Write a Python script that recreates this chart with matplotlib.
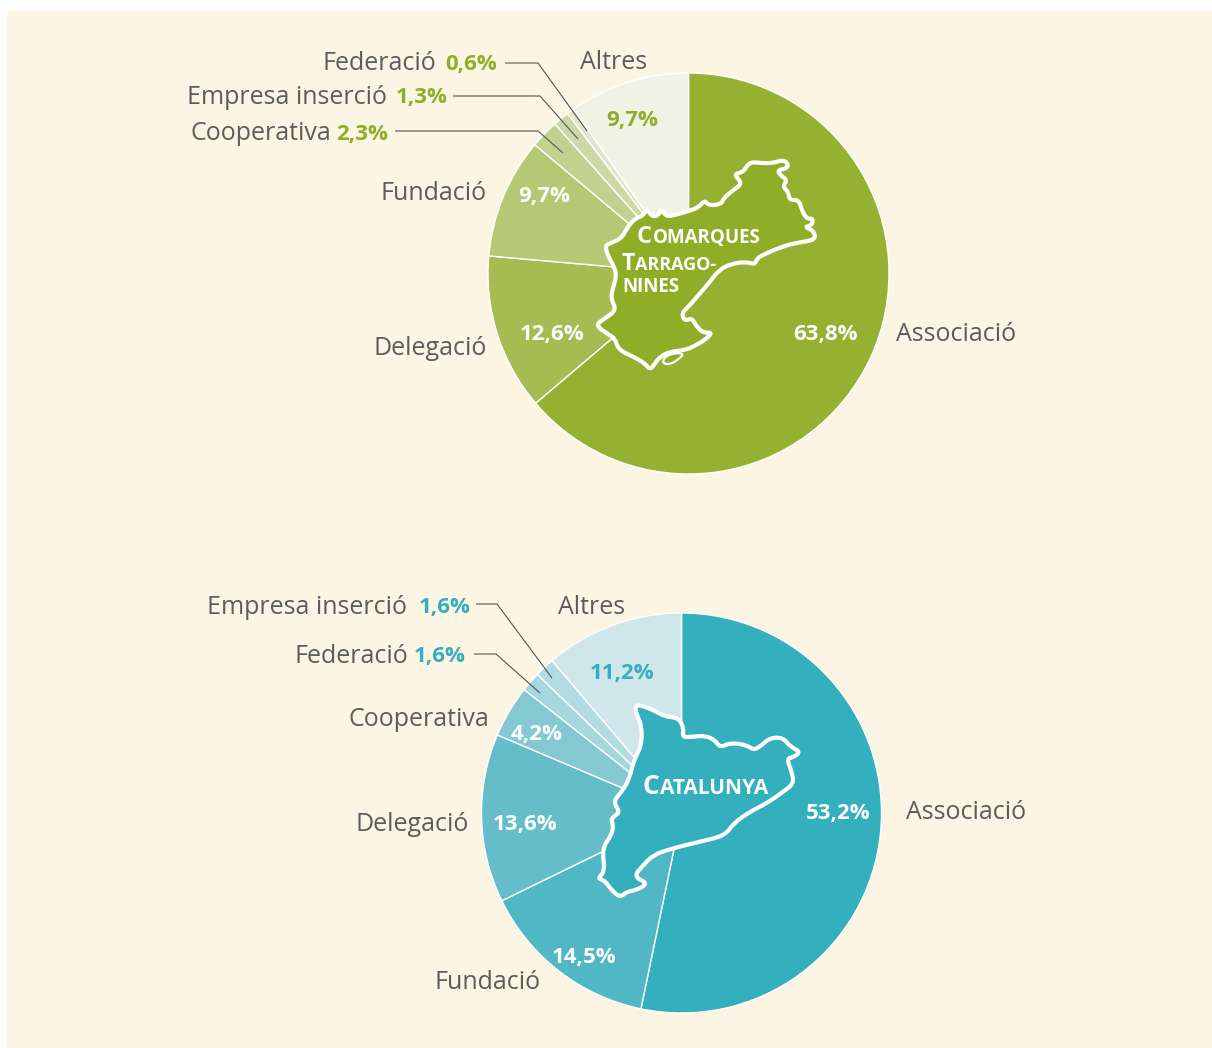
#!/usr/bin/env python3
# -*- coding: utf-8 -*-
import matplotlib
matplotlib.use('Agg')
import matplotlib.pyplot as plt
from matplotlib.patches import PathPatch, Rectangle
from matplotlib.path import Path

W, H = 1212, 1048

## Data, clockwise from 12 o'clock
tgn_labels = ['Associació', 'Delegació', 'Fundació', 'Cooperativa', 'Empresa inserció', 'Federació', 'Altres']
tgn_values = [63.8, 12.6, 9.7, 2.3, 1.3, 0.6, 9.7]
tgn_colors = ['#95B131', '#A6BB52', '#B5C873', '#C3D190', '#CDD8A6', '#E0E6C8', '#F0F2E5']

cat_labels = ['Associació', 'Fundació', 'Delegació', 'Cooperativa', 'Federació', 'Empresa inserció', 'Altres']
cat_values = [53.2, 14.5, 13.6, 4.2, 1.6, 1.6, 11.2]
cat_colors = ['#33AFBD', '#50B7C5', '#66BDCA', '#84C8D2', '#A6D7DF', '#B2DBE3', '#CFE7EB']

## Outlines of the two maps (3x crop coordinates)
tgn_outline = [(478,35),(520,40),(555,38),(575,30),(594,38),(592,55),(563,60),(570,75),(592,90),(578,110),
               (595,125),(598,150),(627,150),(635,180),(650,207),(670,205),(665,227),(643,230),(672,243),(677,270),
               (620,278),(570,292),(525,312),(500,325),(495,344),(470,335),(420,342),(385,362),(360,395),(330,430),
               (300,465),(274,490),(285,514),(305,503),(320,530),(340,549),(368,547),(345,570),(310,590),(285,600),
               (240,605),(210,620),(195,640),(180,660),(165,640),(130,620),(85,599),(75,565),(50,550),(16,525),
               (45,505),(80,480),(62,445),(70,410),(80,375),(70,345),(55,320),(45,288),(60,280),(95,265),
               (110,235),(135,205),(160,197),(170,175),(185,200),(205,197),(215,175),(225,197),(245,198),(300,182),
               (325,172),(345,150),(355,167),(395,162),(400,145),(430,120),(458,100),(430,72),(460,67)]
tgn_delta = [(215,635),(235,612),(285,608),(262,632),(232,645)]
cat_outline = [(135,33),(150,30),(190,45),(225,65),(265,68),(282,100),(276,127),(310,125),(345,122),(375,135),
               (390,158),(420,143),(470,150),(490,165),(510,155),(540,128),(580,128),(600,155),(632,170),(610,187),
               (590,190),(605,230),(612,265),(580,290),(530,325),(480,350),(430,385),(405,422),(330,440),(240,462),
               (190,480),(160,510),(130,545),(175,565),(140,585),(110,590),(90,608),(60,580),(45,557),(22,550),
               (45,530),(36,460),(65,420),(70,390),(62,370),(92,352),(68,320),(100,285),(120,245),(130,200),
               (155,150),(155,90),(140,60)]

FONT = 'Open Sans'
GREY = '#5C5C5C'
GREEN = '#8FAE28'
TEAL = '#33AFBD'

fig = plt.figure(figsize=(W / 100, H / 100), dpi=100, facecolor='white')
ax = fig.add_axes([0, 0, 1, 1])


def map_patch(points, x0, y0, fill, lw):
    # rounded closed outline: each traced point is a control point between two midpoints
    pts = [(x0 + x / 3, H - (y0 + y / 3)) for x, y in points]
    n = len(pts)
    mids = [((pts[i][0] + pts[(i + 1) % n][0]) / 2, (pts[i][1] + pts[(i + 1) % n][1]) / 2) for i in range(n)]
    verts = [mids[-1]]
    codes = [Path.MOVETO]
    for i in range(n):
        verts += [pts[i], mids[i]]
        codes += [Path.CURVE3, Path.CURVE3]
    ax.add_patch(PathPatch(Path(verts, codes), facecolor=fill, edgecolor='white', lw=lw, joinstyle='round', zorder=3))


def label(x, y, s, ha='left', color=GREY, size=18, weight='normal'):
    ax.text(x, H - y - 2.5, s, ha=ha, va='center', color=color, fontsize=size, fontweight=weight, family=FONT)


def pct(x, y, s, color='white'):
    label(x, y, s, ha='center', color=color, size=16, weight='bold')


def smallcaps(x, y, s, big=17, small=13.5):
    # small caps by hand: first letter bigger, the rest placed after it
    rend = fig.canvas.get_renderer()
    t1 = ax.text(x, H - y, s[0], ha='left', va='baseline', color='white', fontsize=big, fontweight='bold', family=FONT)
    w = t1.get_window_extent(rend).width
    ax.text(x + w + 1, H - y, s[1:], ha='left', va='baseline', color='white', fontsize=small, fontweight='bold', family=FONT)


def leader(points):
    xs = [p[0] for p in points]
    ys = [H - p[1] for p in points]
    ax.plot(xs, ys, color='#555555', lw=0.8, solid_capstyle='butt')


ax.pie(tgn_values, colors=tgn_colors, startangle=90, counterclock=False, center=(688.5, H - 273.5), radius=200.5,
       wedgeprops=dict(edgecolor='white', linewidth=1.0))
ax.pie(cat_values, colors=cat_colors, startangle=90, counterclock=False, center=(681.5, H - 813), radius=200,
       wedgeprops=dict(edgecolor='white', linewidth=1.0))
ax.set_xlim(0, W)
ax.set_ylim(0, H)
ax.set_aspect('equal')
ax.axis('off')
ax.add_patch(Rectangle((7, 0), W - 7, H - 10, facecolor='#FDF5E4', edgecolor='none', zorder=0))

# maps
map_patch(tgn_outline, 590, 150, GREEN, 3)
map_patch(tgn_delta, 590, 150, GREEN, 1.6)
map_patch(cat_outline, 590, 695, TEAL, 3)

# top chart labels
label(1016, 332, tgn_labels[0], ha='right')
label(487, 346, tgn_labels[1], ha='right')
label(487, 191, tgn_labels[2], ha='right')
label(331, 131, tgn_labels[3], ha='right')
label(387, 95, tgn_labels[4], ha='right')
label(436, 61, tgn_labels[5], ha='right')
label(614, 60, tgn_labels[6], ha='center')

pct(826, 332, '63,8%')
pct(552, 332, '12,6%')
pct(544, 194, '9,7%')
pct(632, 118, '9,7%', GREEN)
pct(362, 132, '2,3%', GREEN)
pct(422, 95, '1,3%', GREEN)
pct(471, 62, '0,6%', GREEN)

leader([(505, 63), (538, 63), (587, 131)])
leader([(453, 96), (540, 96), (578, 139)])
leader([(395, 131), (538, 131), (563, 153)])

smallcaps(637, 243, 'COMARQUES')
smallcaps(621, 270, 'TARRAGO-', big=16.5, small=13)
ax.text(622, H - 292, 'NINES', ha='left', va='baseline', color='white', fontsize=13.5, fontweight='bold', family=FONT)

# bottom chart labels
label(1026, 810, cat_labels[0], ha='right')
label(541, 980, cat_labels[1], ha='right')
label(469, 822, cat_labels[2], ha='right')
label(489, 717, cat_labels[3], ha='right')
label(408, 654, cat_labels[4], ha='right')
label(407, 605, cat_labels[5], ha='right')
label(592, 605, cat_labels[6], ha='center')

pct(838, 811, '53,2%')
pct(584, 955, '14,5%')
pct(525, 822, '13,6%')
pct(537, 732, '4,2%')
pct(622, 671, '11,2%', TEAL)
pct(445, 605, '1,6%', TEAL)
pct(440, 654, '1,6%', TEAL)

leader([(476, 604), (497, 604), (552, 678)])
leader([(474, 654), (496, 654), (540, 693)])

smallcaps(642, 794, 'CATALUNYA', big=19, small=15)

fig.savefig('out.png', dpi=100, facecolor='white')
